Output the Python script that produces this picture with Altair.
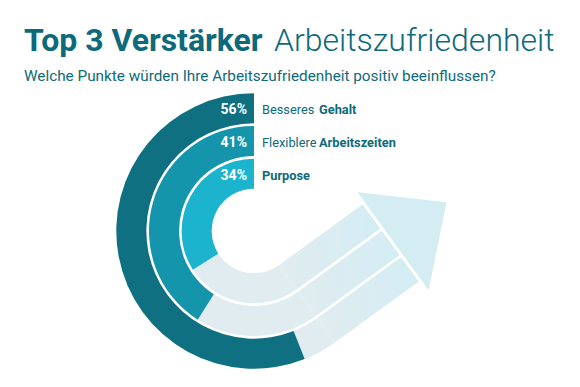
import math
import altair as alt
import pandas as pd

# ---- data -------------------------------------------------------------
title_bold = "Top 3 Verstärker"
title_light = "Arbeitszufriedenheit"
subtitle = "Welche Punkte würden Ihre Arbeitszufriedenheit positiv beeinflussen?"

percent = [56, 41, 34]
label_regular = ["Besseres", "Flexiblere", ""]
label_bold = ["Gehalt", "Arbeitszeiten", "Purpose"]
ring = [3, 2, 1]          # 3 = outer ring
colors = ["#0e7081", "#1495ab", "#1bb3cd"]

# ---- layout constants ---------------------------------------------------
W, H = 564, 371
CX, CY = 246, 223                 # centre of the rings
R_IN, R_OUT = 41, 139             # pixel range of the radius scale
ARROW_DIR = 36                    # arrow direction, degrees above horizontal
ARROW_LEN = 105                   # length of the straight part of the arrow
LIGHT_L = "#e0ecf0"
LIGHT_R = "#d3edf3"
TEXT = "#0d6a7a"

theta_scale = alt.Scale(domain=[0, 1], range=[0, 2 * math.pi])
radius_scale = alt.Scale(type="linear", domain=[0, 3], range=[R_IN, R_OUT], zero=False)

df = pd.DataFrame({
    "pct": percent,
    "regular": label_regular,
    "bold": label_bold,
    "ring": ring,
})
df["start"] = 1 - df["pct"] / 100
df["end"] = 1.0
df["inner"] = df["ring"] - 1
df["mid"] = df["ring"] - 0.5
df["top"] = 0.0
df["turn"] = (180 - ARROW_DIR) / 360
df["label"] = df["pct"].astype(str) + "%"

# straight part of the arrow, derived from the ring geometry
phi = math.radians(180 - ARROW_DIR)
d = math.radians(ARROW_DIR)
ring_px = R_IN + df["mid"] * (R_OUT - R_IN) / 3
df["ax"] = CX + ring_px * math.sin(phi)
df["ay"] = CY - ring_px * math.cos(phi)
df["ax2"] = df["ax"] + ARROW_LEN * math.cos(d)
df["ay2"] = df["ay"] - ARROW_LEN * math.sin(d)

mid_px = (R_IN + R_OUT) / 2
head = pd.DataFrame({
    "hx": [CX + mid_px * math.sin(phi) + ARROW_LEN * math.cos(d)],
    "hy": [CY - mid_px * math.cos(phi) - ARROW_LEN * math.sin(d)],
})

base = alt.Chart(df)
center = dict(x=alt.value(CX), y=alt.value(CY))
gap = 1.3

light_arcs = base.mark_arc(color=LIGHT_L, radiusOffset=-gap, radius2Offset=gap).encode(
    theta=alt.Theta("turn:Q", scale=theta_scale, stack=None),
    theta2="start:Q",
    radius=alt.Radius("ring:Q", scale=radius_scale),
    radius2="inner:Q",
    **center,
)

strip_grad = alt.Gradient(
    gradient="linear", x1=0, y1=0.5, x2=1, y2=0.5,
    stops=[alt.GradientStop(color=LIGHT_L, offset=0), alt.GradientStop(color=LIGHT_R, offset=1)],
)

strips = base.mark_rule(stroke=strip_grad, strokeWidth=(R_OUT - R_IN) / 3 - 2 * gap,
                        strokeCap="butt").encode(
    x=alt.X("ax:Q", scale=None, axis=None),
    y=alt.Y("ay:Q", scale=None, axis=None),
    x2="ax2:Q",
    y2="ay2:Q",
)

arrow_head = alt.Chart(head).mark_point(
    shape="M 0 -1 L 1.09 0 L 0 1 Z",
    size=128 ** 2,
    angle=360 - ARROW_DIR,
    filled=True,
    fill=LIGHT_R,
    opacity=1,
    stroke="white",
    strokeWidth=3,
).encode(
    x=alt.X("hx:Q", scale=None, axis=None),
    y=alt.Y("hy:Q", scale=None, axis=None),
)

arcs = base.mark_arc(radiusOffset=-gap, radius2Offset=gap).encode(
    theta=alt.Theta("start:Q", scale=theta_scale, stack=None),
    theta2="end:Q",
    radius=alt.Radius("ring:Q", scale=radius_scale),
    radius2="inner:Q",
    color=alt.Color("bold:N", scale=alt.Scale(domain=label_bold, range=colors), legend=None),
    **center,
)

polar_text = dict(
    theta=alt.Theta("top:Q", scale=theta_scale, stack=None),
    radius=alt.Radius("mid:Q", scale=radius_scale),
    **center,
)

pct_text = base.mark_text(
    align="right", baseline="middle", dx=-7, dy=2, font="Roboto", fontSize=14,
    fontWeight="bold", color="white",
).encode(text="label:N", **polar_text)

reg_text = base.transform_filter("datum.regular != ''").mark_text(
    align="left", baseline="middle", dx=8, dy=2, font="Roboto", fontSize=12.8, color=TEXT,
).encode(text="regular:N", **polar_text)

bold_text_a = base.transform_filter("datum.regular != ''").mark_text(
    align="left", baseline="middle", dx=65, dy=2, font="Roboto", fontSize=12.8,
    fontWeight="bold", color=TEXT,
).encode(text="bold:N", **polar_text)

bold_text_b = base.transform_filter("datum.regular == ''").mark_text(
    align="left", baseline="middle", dx=8, dy=2, font="Roboto", fontSize=12.8,
    fontWeight="bold", color=TEXT,
).encode(text="bold:N", **polar_text)

title_df = pd.DataFrame({"a": [title_bold], "b": [title_light], "c": [subtitle]})
tbase = alt.Chart(title_df)
t1 = tbase.mark_text(align="left", baseline="alphabetic", font="Roboto", fontSize=32,
                     fontWeight="bold", color=TEXT).encode(
    text="a:N", x=alt.value(16), y=alt.value(43))
t2 = tbase.mark_text(align="left", baseline="alphabetic", font="Roboto", fontSize=32,
                     fontWeight=300, color=TEXT).encode(
    text="b:N", x=alt.value(266), y=alt.value(43))
t3 = tbase.mark_text(align="left", baseline="alphabetic", font="Roboto", fontSize=15.3,
                     color=TEXT).encode(
    text="c:N", x=alt.value(16), y=alt.value(73))

chart = alt.layer(
    light_arcs, strips, arrow_head, arcs,
    pct_text, reg_text, bold_text_a, bold_text_b,
    t1, t2, t3,
).properties(
    width=W, height=H, autosize="none", padding=0,
).configure_view(stroke=None)

chart.save("out.html", embed_options={"renderer": "svg", "actions": False})
